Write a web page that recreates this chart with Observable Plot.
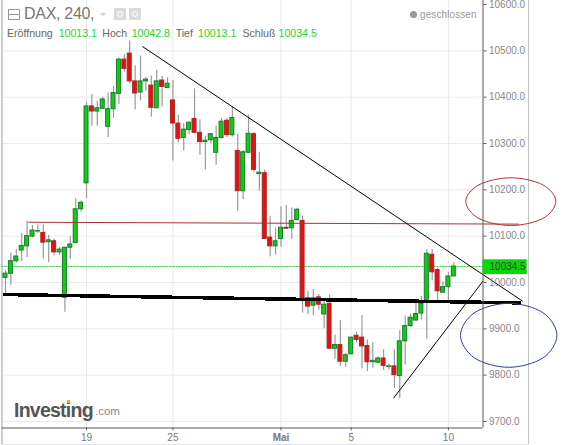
<!DOCTYPE html>
<html><head><meta charset="utf-8">
<script src="https://cdn.jsdelivr.net/npm/d3@7"></script>
<script src="https://cdn.jsdelivr.net/npm/@observablehq/plot@0.6"></script>
<style>
html,body{margin:0;padding:0;background:#fff}
#wrap{position:relative;width:583px;height:445px;overflow:hidden;font-family:"Liberation Sans",Arial,sans-serif}
#wrap svg{display:block;position:absolute;left:0;top:0;background:transparent}
.o{position:absolute;white-space:nowrap}
.l{font-size:10.6px;color:#666;top:27px}
.g{font-size:10.6px;color:#2bd42b;top:27px}
</style></head><body><div id="wrap"></div>
<script>
const open =[10010,10019,10046,10069,10078,10099,10110,10107,10087,10089,10065,9967,10075,10085,10158,10214,10380,10369,10375,10336,10374,10407,10481,10494,10434,10410,10434,10425,10376,10436,10420,10393,10343,10312,10329,10353,10323,10303,10307,10280,10312,10349,10318,10284,10197,10280,10320,10234,10236,10097,10078,10094,10118,10117,10135,10133,9966,9950,9968,9931,9954,9857,9865,9829,9845,9885,9881,9863,9828,9827,9836,9818,9819,9798,9873,9906,9918,9933,9957,10060,10027,9978,9990,10013.1];
const close=[10019,10046,10056,10079,10100,10112,10111,10086,10091,10065,10071,10075,10082,10158,10172,10380,10369,10376,10395,10374,10409,10481,10461,10434,10408,10434,10438,10377,10434,10422,10429,10343,10310,10330,10345,10323,10303,10306,10320,10312,10347,10318,10355,10197,10281,10321,10243,10237,10094,10078,10089,10118,10116,10133,10157,9965,9948,9966,9952,9952,9857,9865,9829,9843,9881,9876,9862,9828,9831,9836,9820,9819,9800,9873,9906,9924,9932,9954,10062,10022,9981,9990,10013,10034.5];
const high =[10026,10063,10071,10106,10132,10123,10124,10124,10102,10094,10076,10076,10099,10181,10176,10389,10406,10391,10400,10409,10423,10485,10492,10521,10468,10489,10443,10445,10458,10445,10442,10436,10361,10343,10346,10418,10351,10316,10322,10337,10354,10354,10379,10320,10285,10361,10324,10281,10243,10143,10118,10163,10166,10161,10160,10143,9981,9985,9974,9965,9973,9886,9918,9847,9882,9893,9929,9876,9870,9840,9855,9824,9855,9896,9927,9932,9955,9970,10071,10071,10031,10001,10022,10042.8];
const low  =[9976,9994,10042,10045,10054,10097,10106,10050,10043,10058,10058,9936,10050,10084,10152,10181,10337,10337,10374,10313,10354,10384,10454,10429,10373,10392,10413,10357,10376,10379,10418,10262,10301,10284,10319,10321,10274,10243,10300,10253,10310,10313,10314,10154,10179,10280,10237,10197,10094,10055,10059,10076,10116,10093,10132,9934,9931,9929,9940,9900,9857,9835,9819,9817,9844,9870,9814,9808,9815,9826,9810,9811,9771,9749,9822,9903,9916,9919,9878,10004,9961,9976,9955,10013.1];

const yTicks=[9700,9800,9900,10000,10100,10200,10300,10400,10500,10600];
const gridY=[9700,9800,9900,10000,10100,10200,10300,10400,10500];
const xTicks=[15,31,64,82];
const xLabels={15:"19",31:"25",51:"Mai",64:"5",82:"10"};
const monthTick=[51];
const lastPrice=10034.5;

// frame edges in scale units
const xLeft=-0.65, xAxis=88.41, xRight=96.83;
const yBottom=9686, yTop=10609, yFoot=9650;

const downTrend=[{x:25.4,y:10509},{x:95.7,y:9960}];
const upTrend=[{x:71.9,y:9751},{x:88.4,y:10003}];
const support=[{x:-0.2,y:9974},{x:95.2,y:9956}];
const resistance=[{x:4.26,y:10130},{x:95,y:10126}];
const redOval=[{x:85.22,y:10175},{x:87.67,y:10211},{x:93.56,y:10226},{x:99.44,y:10211},{x:101.89,y:10175},{x:99.44,y:10138},{x:93.56,y:10123},{x:87.67,y:10138}];
const blueOval=[{x:84.24,y:9886},{x:86.85,y:9935},{x:93.17,y:9955},{x:99.48,y:9935},{x:102.09,y:9886},{x:99.48,y:9837},{x:93.17,y:9817},{x:86.85,y:9837}];

const candles=open.map((o,i)=>({i,o,c:close[i],h:high[i],l:low[i]}));
const up=d=>d.c>=d.o;

const chart=Plot.plot({
  width:583,height:445,marginLeft:0,marginTop:0,marginRight:100.5,marginBottom:17.7,
  style:{background:"transparent",fontFamily:"'Liberation Sans',Arial,sans-serif"},
  x:{domain:[0,83],range:[5,453.3]},
  y:{domain:[9700,10600],range:[421,4]},
  marks:[
    Plot.ruleY(gridY,{x1:xLeft,x2:xAxis,stroke:"#eaeaea"}),
    Plot.ruleX([...xTicks,...monthTick],{y1:yBottom,y2:yTop,stroke:"#eaeaea"}),
    Plot.ruleX([xLeft],{y1:yFoot,y2:yTop,stroke:"#bdbdbd",strokeWidth:1.5}),
    Plot.ruleX([xRight],{y1:yFoot,y2:yTop,stroke:"#c4c4c4",strokeWidth:1}),
    Plot.ruleY([yFoot],{x1:xLeft,x2:xRight,stroke:"#dfe1e6"}),
    Plot.ruleY([lastPrice],{x1:xLeft,x2:xAxis,stroke:"#35c435",strokeDasharray:"2,1"}),
    Plot.ruleX(candles,{x:"i",y1:"l",y2:"h",stroke:"#9a9a9a",strokeWidth:1.2}),
    Plot.rect(candles,{x1:d=>d.i-0.37,x2:d=>d.i+0.37,y1:"o",y2:"c",
      fill:d=>up(d)?"#17c917":"#dd1414",stroke:d=>up(d)?"#147f2a":"#b02626",strokeWidth:1}),
    Plot.line(resistance,{x:"x",y:"y",stroke:"#a8323a",strokeWidth:1}),
    Plot.line(downTrend,{x:"x",y:"y",stroke:"#000",strokeWidth:1}),
    Plot.line(upTrend,{x:"x",y:"y",stroke:"#000",strokeWidth:1}),
    Plot.line(support,{x:"x",y:"y",stroke:"#000",strokeWidth:3.5,shapeRendering:"crispEdges"}),
    Plot.line(redOval,{x:"x",y:"y",curve:"cardinal-closed",stroke:"#b5303c",strokeWidth:1}),
    Plot.line(blueOval,{x:"x",y:"y",curve:"cardinal-closed",stroke:"#2f3f8f",strokeWidth:1}),
    Plot.ruleX([xAxis],{y1:yBottom,y2:yTop,stroke:"#5a5a5a",strokeWidth:1}),
    Plot.ruleY([yBottom],{x1:xLeft,x2:xAxis,stroke:"#5a5a5a",strokeWidth:1}),
    Plot.axisY({anchor:"right",ticks:yTicks,tickFormat:d=>d.toFixed(1),tickSize:3,tickPadding:3,fontSize:10,label:null,color:"#888",stroke:"#5a5a5a"}),
    Plot.axisX({anchor:"bottom",ticks:xTicks,tickFormat:d=>xLabels[d],tickSize:3,tickPadding:3,fontSize:10,label:null,color:"#777",stroke:"#5a5a5a"}),
    Plot.axisX({anchor:"bottom",ticks:monthTick,tickFormat:d=>xLabels[d],tickSize:3,tickPadding:3,fontSize:10,fontWeight:"bold",label:null,color:"#777",stroke:"#5a5a5a"}),
    Plot.rect([lastPrice],{x1:xAxis,x2:96.6,y1:10017,y2:10049,fill:"#0ad80a"}),
    Plot.text([lastPrice],{x:xAxis,y:d=>d,text:d=>d.toFixed(1),textAnchor:"start",dx:6.5,fontSize:10,fill:"#3a3a3a"})
  ]
});
const w=document.getElementById("wrap");
w.appendChild(chart);
function o(css,txt,cls){const e=document.createElement("div");e.className="o "+(cls||"");e.style.cssText=css;if(txt)e.textContent=txt;w.appendChild(e);return e;}
// header
o("left:8px;top:9px;width:10px;height:9px;border:1px solid #999;box-sizing:content-box;background:linear-gradient(#999,#999) 0 4px/100% 1px no-repeat");
o("left:24px;top:5px;font-size:16px;color:#777;letter-spacing:-.3px","DAX, 240,");
o("left:100px;top:13px;width:0;height:0;border-left:3px solid transparent;border-right:3px solid transparent;border-top:3px solid #ccc");
o("left:114px;top:8px;width:12px;height:12px;background:#dcdcdc");
o("left:129px;top:8px;width:12px;height:12px;background:#dcdcdc");
o("left:117px;top:11px;width:4px;height:4px;border:1px solid #fff;border-radius:50%");
o("left:132px;top:11px;width:4px;height:4px;border:1px solid #fff;border-radius:50%");
[["Eröffnung",7,"l"],["10013.1",58.7,"g"],["Hoch",102.3,"l"],["10042.8",131.7,"g"],["Tief",175.7,"l"],["10013.1",198,"g"],["Schluß",242.5,"l"],["10034.5",278.5,"g"]]
  .forEach(([t,x,c])=>o("left:"+x+"px",t,c));
o("left:410px;top:11px;width:7px;height:7px;border-radius:50%;background:#999");
o("left:420px;top:8.5px;font-size:10px;color:#999;letter-spacing:.1px","geschlossen");
// logo
o("left:14px;top:399px;font-size:19.5px;font-weight:bold;color:#555;letter-spacing:-.75px","Investing");
o("left:95px;top:405px;font-size:11.5px;color:#888",".com");
o("left:67px;top:400px;width:3px;height:2.5px;background:#eba83a");
</script></body></html>
